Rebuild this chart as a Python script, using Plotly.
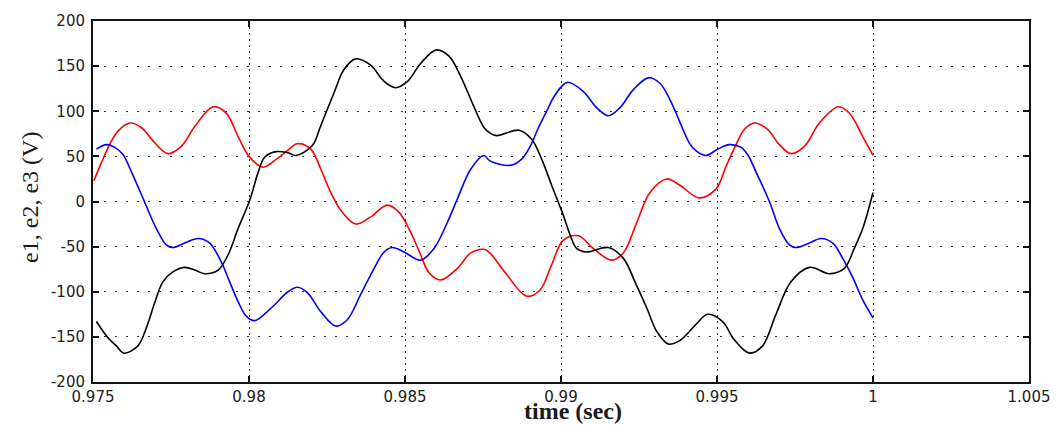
import plotly.graph_objects as go

# Phase voltages e1 (red), e2 (blue), e3 (black) over the last 25 ms
t_e1 = [0.97503, 0.97527, 0.97553, 0.97580, 0.97618, 0.97655, 0.97698, 0.97740, 0.97783, 0.97826,
        0.97885, 0.97927, 0.97965, 0.98000, 0.98045, 0.98088, 0.98125, 0.98155, 0.98198, 0.98230,
        0.98262, 0.98299, 0.98342, 0.98390, 0.98443, 0.98481, 0.98518, 0.98550, 0.98577, 0.98614,
        0.98668, 0.98711, 0.98753, 0.98772, 0.98826, 0.98890, 0.98933, 0.98970, 0.99007, 0.99056,
        0.99103, 0.99162, 0.99200, 0.99243, 0.99285, 0.99339, 0.99381, 0.99443, 0.99497, 0.99529,
        0.99561, 0.99588, 0.99620, 0.99662, 0.99700, 0.99737, 0.99780, 0.99828, 0.99889, 0.99924,
        0.99967, 1.00000]
e1 = [23, 43, 63, 78, 87, 82, 65, 53, 61, 83,
      105, 98, 72, 50, 38, 47, 57, 64, 58, 36,
      10, -12, -25, -17, -4, -12, -34, -59, -79, -87,
      -74, -57, -53, -57, -81, -105, -98, -70, -43, -38,
      -52, -65, -57, -23, 10, 25, 18, 4, 14, 39,
      63, 80, 87, 80, 63, 53, 61, 87, 105, 98,
      72, 51]

t_e2 = [0.97511, 0.97543, 0.97570, 0.97596, 0.97628, 0.97666, 0.97703, 0.97735, 0.97756, 0.97794,
        0.97837, 0.97874, 0.97911, 0.97938, 0.97965, 0.97991, 0.98018, 0.98071, 0.98125, 0.98155,
        0.98187, 0.98230, 0.98278, 0.98315, 0.98358, 0.98401, 0.98433, 0.98459, 0.98497, 0.98550,
        0.98593, 0.98636, 0.98668, 0.98711, 0.98753, 0.98772, 0.98837, 0.98874, 0.98901, 0.98928,
        0.98954, 0.98981, 0.99020, 0.99071, 0.99114, 0.99152, 0.99189, 0.99232, 0.99280, 0.99317,
        0.99349, 0.99381, 0.99411, 0.99433, 0.99465, 0.99502, 0.99539, 0.99577, 0.99598, 0.99630,
        0.99668, 0.99700, 0.99732, 0.99753, 0.99796, 0.99833, 0.99871, 0.99903, 0.99936, 0.99967,
        1.00000]
e2 = [58, 63, 60, 52, 29, -1, -30, -48, -51, -46,
      -41, -46, -67, -89, -111, -127, -132, -118, -100, -95,
      -101, -122, -138, -131, -103, -74, -56, -51, -56, -65,
      -52, -23, 3, 36, 51, 45, 40, 47, 61, 82,
      100, 118, 132, 122, 104, 95, 104, 124, 137, 131,
      113, 88, 65, 56, 51, 58, 63, 60, 52, 29,
      0, -30, -48, -51, -46, -41, -46, -63, -85, -109,
      -129]

t_e3 = [0.97511, 0.97548, 0.97575, 0.97599, 0.97644, 0.97671, 0.97698, 0.97724, 0.97756, 0.97794,
        0.97826, 0.97858, 0.97901, 0.97933, 0.97965, 0.98002, 0.98029, 0.98050, 0.98082, 0.98125,
        0.98150, 0.98203, 0.98230, 0.98272, 0.98304, 0.98342, 0.98390, 0.98433, 0.98470, 0.98508,
        0.98550, 0.98601, 0.98641, 0.98678, 0.98716, 0.98753, 0.98772, 0.98794, 0.98866, 0.98906,
        0.98938, 0.98970, 0.99007, 0.99029, 0.99050, 0.99082, 0.99152, 0.99200, 0.99237, 0.99275,
        0.99307, 0.99344, 0.99381, 0.99395, 0.99433, 0.99470, 0.99518, 0.99555, 0.99604, 0.99646,
        0.99689, 0.99737, 0.99796, 0.99860, 0.99908, 0.99940, 0.99967, 1.00000]
e3 = [-133, -151, -160, -168, -160, -140, -112, -89, -78, -73,
      -76, -80, -76, -59, -30, 1, 32, 49, 55, 54,
      51, 62, 84, 120, 146, 158, 151, 133, 126, 133,
      153, 168, 161, 139, 109, 82, 76, 73, 79, 69,
      47, 18, -15, -37, -52, -56, -51, -63, -89, -118,
      -144, -158, -154, -150, -136, -125, -133, -153, -168, -160,
      -125, -89, -73, -80, -74, -52, -30, 10]

x_ticks = [0.975, 0.98, 0.985, 0.99, 0.995, 1.0, 1.005]
x_tick_text = ["0.975", "0.98", "0.985", "0.99", "0.995", "1", "1.005"]
y_ticks = [200, 150, 100, 50, 0, -50, -100, -150, -200]
y_tick_text = ["200", "150", "100", "50", "0", "-50", "-100", "-150", "-200"]

fig = go.Figure()
for t, v, color in [(t_e1, e1, "#ff0000"), (t_e2, e2, "#0000ff"), (t_e3, e3, "#000000")]:
    fig.add_trace(go.Scatter(x=t, y=v, mode="lines",
                             line=dict(color=color, width=1.6, shape="spline", smoothing=1.0),
                             showlegend=False, hoverinfo="skip"))

tick_font = dict(family="DejaVu Sans", size=15, color="#222222")
axis_common = dict(showline=True, linecolor="#111111", linewidth=2, mirror="ticks",
                   ticks="inside", ticklen=6, tickwidth=2, tickcolor="#111111",
                   showgrid=True, gridcolor="#333333", gridwidth=1,
                   zeroline=False, tickfont=tick_font)

fig.update_xaxes(range=[0.975, 1.005], tickvals=x_ticks, ticktext=x_tick_text,
                 griddash="2px,4px", ticklabelstandoff=0, **axis_common)
fig.update_yaxes(range=[-200, 200], tickvals=y_ticks, ticktext=y_tick_text,
                 griddash="2px,9px", ticklabelstandoff=3, **axis_common)

fig.add_annotation(text="e1, e2, e3 (V)", xref="paper", yref="paper",
                   x=-63 / 936, y=0.51, xanchor="center", yanchor="middle",
                   textangle=-90, showarrow=False,
                   font=dict(family="Liberation Serif", size=24, color="#1a1a1a"))
fig.add_annotation(text="<b>time (sec)</b>", xref="paper", yref="paper",
                   x=0.513, y=-43 / 364, xanchor="center", yanchor="bottom",
                   showarrow=False, borderpad=0,
                   font=dict(family="Liberation Serif", size=24, color="#1a1a1a"))

fig.update_layout(width=1062, height=425, paper_bgcolor="white", plot_bgcolor="white",
                  margin=dict(l=93, r=33, t=18, b=43))

fig.write_html("out.html")
